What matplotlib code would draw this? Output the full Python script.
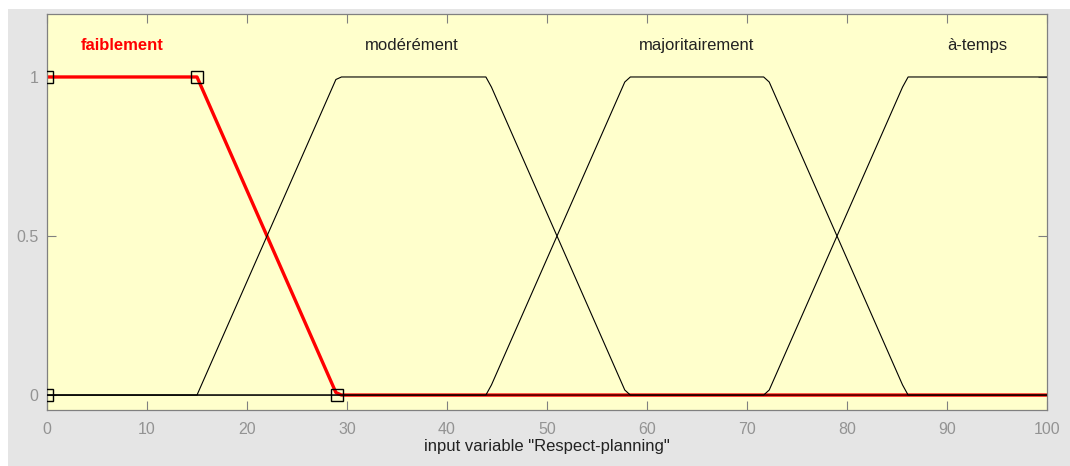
import numpy as np
import matplotlib.pyplot as plt
from matplotlib.patches import Rectangle

plt.rcParams["font.family"] = ["Liberation Sans", "DejaVu Sans"]

# membership functions of the input variable (trapmf parameters)
mf_names = ["faiblement", "modérément", "majoritairement", "à-temps"]
mf_params = [
    [0, 0, 15, 29],
    [15, 29, 44, 58],
    [44, 58, 72, 86],
    [72, 86, 100, 100],
]
selected = 0  # highlighted function
x_range = [0, 100]
x_ticks = list(range(0, 101, 10))
y_ticks = [0, 0.5, 1]
x_label = 'input variable "Respect-planning"'


def trapmf(x, p):
    a, b, c, d = p
    left = np.ones_like(x) if b == a else (x - a) / (b - a)
    right = np.ones_like(x) if d == c else (d - x) / (d - c)
    return np.clip(np.minimum(left, right), 0, 1)


fig = plt.figure(figsize=(10.70, 4.66), dpi=100, facecolor="white")
fig.patches.append(Rectangle((8 / 1070, 0), 1, 457 / 466, transform=fig.transFigure,
                             facecolor="#e5e5e5", edgecolor="none", zorder=-1))
ax = fig.add_axes([47 / 1070, 56 / 466, 1000 / 1070, 396 / 466])
ax.set_facecolor("#ffffcc")

x = np.linspace(x_range[0], x_range[1], 181)
for i, (name, p) in enumerate(zip(mf_names, mf_params)):
    y = trapmf(x, p)
    if i == selected:
        ax.plot(x, y, color="red", lw=2.4, zorder=2, solid_capstyle="butt")
        pts_y = [0, 1, 1, 0]
        ax.plot(p, pts_y, ls="none", marker="s", ms=9, mfc="none", mec="black",
                mew=1.0, zorder=4)
        color, weight = "red", "bold"
    else:
        ax.plot(x, y, color="black", lw=0.8, zorder=3)
        color, weight = "#222222", "normal"
    # label over the plateau centre
    ax.text((p[1] + p[2]) / 2, 1.1, name, color=color, fontweight=weight,
            fontsize=12, ha="center", va="center")

ax.set_xlim(x_range)
ax.set_ylim(-0.047, 1.198)
ax.set_xticks(x_ticks)
ax.set_yticks(y_ticks)
ax.set_yticklabels(["0", "0.5", "1"])
ax.tick_params(direction="in", length=6.5, width=0.8, color="#808080",
               labelcolor="#939393", labelsize=11.5, top=True, right=True)
ax.tick_params(axis="x", pad=9)
ax.tick_params(axis="y", pad=6)
for s in ax.spines.values():
    s.set_color("#808080")
    s.set_linewidth(0.9)
ax.set_xlabel(x_label, fontsize=12, color="#222222", labelpad=1)

fig.savefig("out.png", dpi=100)
